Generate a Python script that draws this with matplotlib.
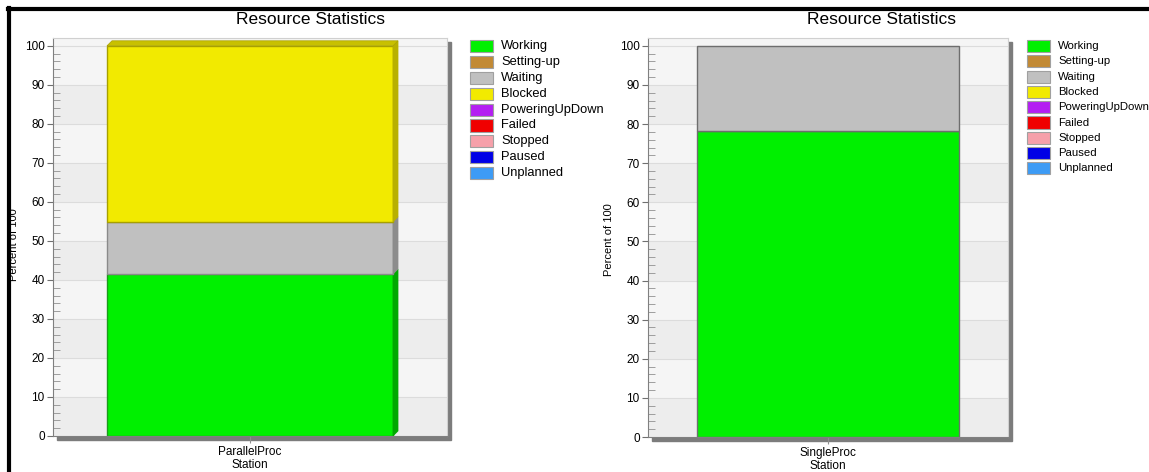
#%% Librerias
import numpy as np
import matplotlib
matplotlib.use('Agg')
import matplotlib.pyplot as plt
from matplotlib.patches import Rectangle, Polygon
from matplotlib.lines import Line2D

plt.rcParams['font.family'] = ['Liberation Sans', 'DejaVu Sans']

W, H = 1149, 472

#%% datos
states = ['Working', 'Setting-up', 'Waiting', 'Blocked', 'PoweringUpDown',
          'Failed', 'Stopped', 'Paused', 'Unplanned']
state_colors = ['#00f000', '#c28a35', '#c0c0c0', '#f2ea00', '#b41ff2',
                '#f00000', '#f6a0aa', '#0000e6', '#3d9bf5']
edge_colors = ['#1c9a1c', '#8a6020', '#8a8a8a', '#a8a000', '#7a10a8',
               '#a00000', '#b07078', '#000090', '#2060a0']
side_colors = ['#00a800', '#8a6020', '#8c8c8c', '#b8b000', '#7a10a8',
               '#a00000', '#b07078', '#000090', '#2060a0']

parallel_station = ['ParallelProc']
parallel_pct = [41.5, 0, 13.4, 45.1, 0, 0, 0, 0, 0]

single_station = ['SingleProc']
single_pct = [78.3, 0, 21.7, 0, 0, 0, 0, 0, 0]

y_major = list(range(0, 101, 10))


#%% helpers (pixeles -> fraccion de figura)
def fx(x):
    return x / W


def fy(y):
    return 1 - y / H


def panel(x0, x1, y_top, y_bot, station, pct, depth, title_x, leg_x, leg_y0, leg_dy,
          leg_fs, ylab_x, ylab_y, clip_right=None):
    ax = fig.add_axes([fx(x0), fy(y_bot), fx(x1) - fx(x0), fy(y_top) - fy(y_bot)])
    ymax = 102
    ax.set_xlim(-0.5, 0.5)
    ax.set_ylim(0, ymax)

    # bandas de fondo
    ax.set_facecolor('#f5f5f5')
    for k in range(0, 100, 20):
        ax.axhspan(k, k + 10, color='#ededed', zorder=0, lw=0)
    for yv in y_major[1:]:
        ax.axhline(yv, color='#dcdcdc', lw=0.8, zorder=0.5)

    # sombra del area de grafico
    fig.add_artist(Rectangle((fx(x0 + 4), fy(y_bot + 4)), fx(x1) - fx(x0), fy(y_top) - fy(y_bot),
                             transform=fig.transFigure, color='#7c7c7c', zorder=-1))

    bw = 0.726
    dx = depth / (x1 - x0)
    dy = depth / (y_bot - y_top) * ymax
    bottom = 0
    top_idx = max(i for i, v in enumerate(pct) if v > 0)
    for i, v in enumerate(pct):
        if v <= 0:
            continue
        ax.bar(station, v, bottom=bottom, width=bw, color=state_colors[i],
               edgecolor=edge_colors[i] if depth else '#6e6e6e', lw=1, zorder=2)
        if depth:
            xr = bw / 2
            ax.add_patch(Polygon([(xr, bottom), (xr + dx, bottom + dy), (xr + dx, bottom + v + dy),
                                  (xr, bottom + v)], closed=True, facecolor=side_colors[i],
                                 edgecolor=side_colors[i], lw=0.5, zorder=2))
            if i == top_idx:
                ax.add_patch(Polygon([(-xr, bottom + v), (-xr + dx, bottom + v + dy),
                                      (xr + dx, bottom + v + dy), (xr, bottom + v)], closed=True,
                                     facecolor='#c8c000', edgecolor='#a8a000', lw=0.5, zorder=2))
        bottom += v

    # ejes
    ax.set_yticks(y_major)
    ax.set_yticks(list(range(0, 101, 2)), minor=True)
    ax.tick_params(axis='y', which='major', direction='out', length=4, color='#707070',
                   labelsize=8.5, pad=2)
    ax.tick_params(axis='y', which='minor', direction='in', length=5, color='#909090')
    ax.tick_params(axis='x', direction='out', length=5, color='#909090', labelsize=8.5, pad=2)
    ax.set_xlabel('Station', fontsize=8.5, labelpad=1)
    for s in ['left', 'bottom']:
        ax.spines[s].set_color('#808080')
    for s in ['top', 'right']:
        ax.spines[s].set_color('#d0d0d0')

    fig.text(fx(ylab_x), fy(ylab_y), 'Percent of 100', rotation=90, ha='center', va='center',
             fontsize=8)
    fig.text(fx(title_x), fy(20), 'Resource Statistics', ha='center', va='center', fontsize=12.5)

    # leyenda
    for i, name in enumerate(states):
        yc = leg_y0 + i * leg_dy
        fig.add_artist(Rectangle((fx(leg_x), fy(yc + 6)), fx(23), 12 / H, transform=fig.transFigure,
                                 facecolor=state_colors[i], edgecolor='#a0a0a0', lw=0.8))
        t = fig.text(fx(leg_x + 31), fy(yc), name, ha='left', va='center', fontsize=leg_fs)
        if clip_right is not None:
            t.set_clip_on(True)
            t.set_clip_box(matplotlib.transforms.TransformedBbox(
                matplotlib.transforms.Bbox([[0, 0], [fx(clip_right), 1]]), fig.transFigure))
    return ax


#%% figura
fig = plt.figure(figsize=(W / 100, H / 100), dpi=100)

panel(53, 447, 38, 436, parallel_station, parallel_pct, 5, 310, 470, 46, 15.9, 9.3,
      14, 245, clip_right=603)
panel(648, 1008, 38, 437, single_station, single_pct, 0, 882, 1027, 46, 15.3, 8.2,
      609, 240)

# marco negro
fig.add_artist(Line2D([fx(8), 1], [fy(9), fy(9)], transform=fig.transFigure, color='black',
                      lw=3, zorder=10))
fig.add_artist(Line2D([fx(9), fx(9)], [fy(8), 0], transform=fig.transFigure, color='black',
                      lw=3, zorder=10))

fig.savefig('out.png', dpi=100)
